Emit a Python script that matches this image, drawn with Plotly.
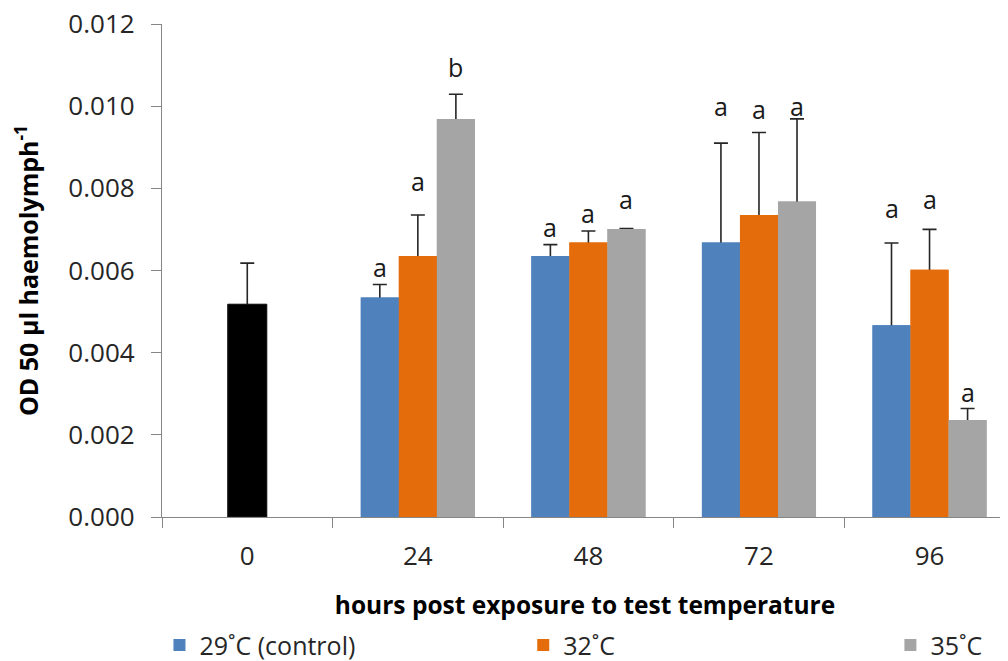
import plotly.graph_objects as go

# ---- data ----
hours = ["0", "24", "48", "72", "96"]
groups = ["24", "48", "72", "96"]

baseline_value = [0.00518]
baseline_err = [0.00100]

series_names = ["29˚C (control)", "32˚C", "35˚C"]
series_colors = ["#4F81BD", "#E46C0A", "#A5A5A5"]

od_29 = [0.00534, 0.00635, 0.00668, 0.00467]
od_32 = [0.00635, 0.00668, 0.00735, 0.00602]
od_35 = [0.00969, 0.00701, 0.00768, 0.00236]

err_29 = [0.00032, 0.00028, 0.00242, 0.00200]
err_32 = [0.00100, 0.00028, 0.00201, 0.00098]
err_35 = [0.00060, 0.00001, 0.00201, 0.00028]

letters_29 = ["a", "a", "a", "a"]
letters_32 = ["a", "a", "a", "a"]
letters_35 = ["b", "a", "a", "a"]

# letter positions (y, data units)
letter_y_29 = [0.00609, 0.00706, 0.01000, 0.00751]
letter_y_32 = [0.00818, 0.00741, 0.00992, 0.00775]
letter_y_35 = [0.01096, 0.00773, 0.01000, 0.00304]

values = [od_29, od_32, od_35]
errors = [err_29, err_32, err_35]
letters = [letters_29, letters_32, letters_35]
letter_ys = [letter_y_29, letter_y_32, letter_y_35]

# ---- style ----
FONT = "Open Sans"
BAR_W = 0.223
OFFSETS = [-1.5 * BAR_W, -0.5 * BAR_W, 0.5 * BAR_W]
ERR_COLOR = "#262626"
LEGEND_IDS = ["legend", "legend2", "legend3"]
LEGEND_X = [-0.003, 0.427, 0.861]

fig = go.Figure()

# under-layer: bars carrying the error bars (lower half is hidden by the top layer)
fig.add_trace(go.Bar(
    x=["0"], y=baseline_value, width=0.229, offset=-0.1145,
    marker=dict(color="#000000", line=dict(width=0)),
    error_y=dict(type="data", array=baseline_err, symmetric=True,
                 color=ERR_COLOR, thickness=1.6, width=7),
    showlegend=False, xaxis="x", yaxis="y", hoverinfo="skip",
))
for vals, errs, col, off in zip(values, errors, series_colors, OFFSETS):
    fig.add_trace(go.Bar(
        x=groups, y=vals, width=BAR_W, offset=off,
        marker=dict(color=col, line=dict(width=0)),
        error_y=dict(type="data", array=errs, symmetric=True,
                     color=ERR_COLOR, thickness=1.6, width=7),
        showlegend=False, xaxis="x", yaxis="y", hoverinfo="skip",
    ))

# top layer: the visible bars
fig.add_trace(go.Bar(
    x=["0"], y=baseline_value, width=0.229, offset=-0.1145,
    marker=dict(color="#000000", line=dict(width=1, color="#1a1a1a")),
    showlegend=False, xaxis="x2", yaxis="y2",
))
for vals, name, col, off, lg in zip(values, series_names, series_colors, OFFSETS, LEGEND_IDS):
    fig.add_trace(go.Bar(
        x=groups, y=vals, width=BAR_W, offset=off, name=name,
        marker=dict(color=col, line=dict(width=0)),
        xaxis="x2", yaxis="y2", legend=lg,
    ))

# significance letters
annotations = []
for lets, lys, off in zip(letters, letter_ys, OFFSETS):
    for i, (t, ly) in enumerate(zip(lets, lys)):
        annotations.append(dict(
            x=hours.index(groups[i]) + off + BAR_W / 2, y=ly,
            xref="x", yref="y", text=t, showarrow=False,
            font=dict(family=FONT, size=25, color="#1a1a1a"),
            xanchor="center", yanchor="middle",
        ))

XRANGE = [-0.5, 4.46]
YRANGE = [0, 0.012]

legend_common = dict(orientation="h", y=-0.26, yanchor="middle", xanchor="left",
                     font=dict(family=FONT, size=25, color="#262626"),
                     bgcolor="rgba(0,0,0,0)")

# the page adds an 8px body margin, so the figure is 8px smaller than the window
fig.update_layout(
    width=1000, height=653,
    margin=dict(l=154, r=0, t=16, b=144, autoexpand=False),
    paper_bgcolor="white", plot_bgcolor="white",
    barmode="overlay",
    font=dict(family=FONT, color="#404040"),
    annotations=annotations,
    xaxis=dict(
        type="category", categoryorder="array", categoryarray=hours,
        range=XRANGE, tickson="boundaries", ticks="outside", ticklen=10,
        tickcolor="#868686", tickwidth=1.3,
        showline=True, linecolor="#868686", linewidth=1.3,
        showgrid=False, zeroline=False, automargin=False,
        tickfont=dict(family=FONT, size=26, color="#262626"),
        ticklabelstandoff=16, ticklabeloverflow="allow",
        title=dict(text="<b>hours post exposure to test temperature</b>",
                   font=dict(family=FONT, size=24.5, color="#000000"), standoff=24),
    ),
    yaxis=dict(
        range=YRANGE, tickvals=[0, 0.002, 0.004, 0.006, 0.008, 0.010, 0.012],
        tickformat=".3f", ticks="outside", ticklen=10,
        tickcolor="#868686", tickwidth=1.3,
        showline=True, linecolor="#868686", linewidth=1.3,
        showgrid=False, zeroline=False, automargin=False,
        tickfont=dict(family=FONT, size=26, color="#262626"),
        ticklabelstandoff=11, ticklabeloverflow="allow",
        title=dict(text="<b>OD 50 µl haemolymph<sup>-1</sup></b>",
                   font=dict(family=FONT, size=25, color="#000000"), standoff=29),
    ),
    xaxis2=dict(type="category", categoryorder="array", categoryarray=hours,
                range=XRANGE, overlaying="x", visible=False),
    yaxis2=dict(range=YRANGE, overlaying="y", visible=False),
    legend=dict(x=LEGEND_X[0], **legend_common),
    legend2=dict(x=LEGEND_X[1], **legend_common),
    legend3=dict(x=LEGEND_X[2], **legend_common),
    showlegend=True,
)

fig.write_html("out.html")
